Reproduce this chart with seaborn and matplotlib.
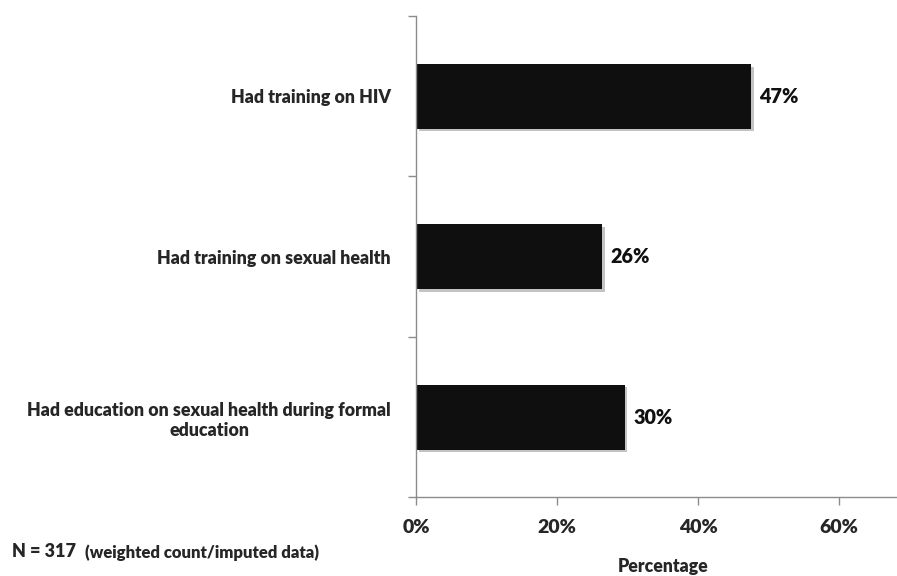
import matplotlib
matplotlib.use("Agg")
import matplotlib.pyplot as plt
import matplotlib.patheffects as pe
import seaborn as sns
import pandas as pd

categories = [
    "Had training on HIV",
    "Had training on sexual health",
    "Had education on sexual health during formal\neducation",
]
values = [0.475, 0.264, 0.296]
value_labels = ["47%", "26%", "30%"]
xticks = [0.0, 0.2, 0.4, 0.6]
xtick_labels = ["0%", "20%", "40%", "60%"]

sns.set_theme(style="white")
plt.rcParams["font.family"] = ["Lato", "DejaVu Sans"]

df = pd.DataFrame({"category": categories, "value": values})

fig = plt.figure(figsize=(8.97, 5.76), dpi=100)
ax = fig.add_axes([416 / 897, (576 - 497.3) / 576, (909.5 - 416) / 897, (497.3 - 16) / 576])

sns.barplot(data=df, x="value", y="category", order=categories, color="#0f0f0f",
            width=0.405, saturation=1, ax=ax, edgecolor="none")

for p in ax.patches:
    p.set_path_effects([pe.SimplePatchShadow(offset=(2, -2), shadow_rgbFace="#888888", alpha=0.5),
                        pe.Normal()])

ax.set_xlim(0, 0.70)
ax.set_ylim(2.5, -0.5)

ax.set_xticks(xticks)
ax.set_xticklabels(xtick_labels, fontsize=14, fontweight="heavy")
ax.set_yticks([-0.5, 0.5, 1.5, 2.5])
ax.set_yticklabels([])
ax.set_yticks(range(len(categories)), minor=True)
ax.set_yticklabels(categories, minor=True, fontsize=12.8, fontweight="heavy",
                   multialignment="center", linespacing=1.25)
ax.tick_params(axis="y", which="minor", length=0, pad=18)
ax.tick_params(axis="y", which="major", length=6, width=1, color="#8c8c8c", left=True)
ax.tick_params(axis="x", which="major", length=6, width=1, color="#8c8c8c", bottom=True, pad=9.5)

for s in ["top", "right"]:
    ax.spines[s].set_visible(False)
for s in ["left", "bottom"]:
    ax.spines[s].set_color("#8c8c8c")
    ax.spines[s].set_linewidth(1)

ax.set_xlabel("Percentage", fontsize=12.7, fontweight="heavy", labelpad=16)
ax.set_ylabel("")

for i, (v, lab) in enumerate(zip(values, value_labels)):
    ax.annotate(lab, xy=(v, i), xytext=(6, 0), textcoords="offset points",
                ha="left", va="center", fontsize=14.2, fontweight="heavy", color="#111111")

fig.text(12 / 897, 1 - 551.5 / 576, "N = 317", fontsize=13, fontweight="heavy",
         ha="left", va="center")
fig.text(85 / 897, 1 - 552.5 / 576, "(weighted count/imputed data)", fontsize=12,
         fontweight="heavy", ha="left", va="center")

fig.savefig("out.png", dpi=100)
